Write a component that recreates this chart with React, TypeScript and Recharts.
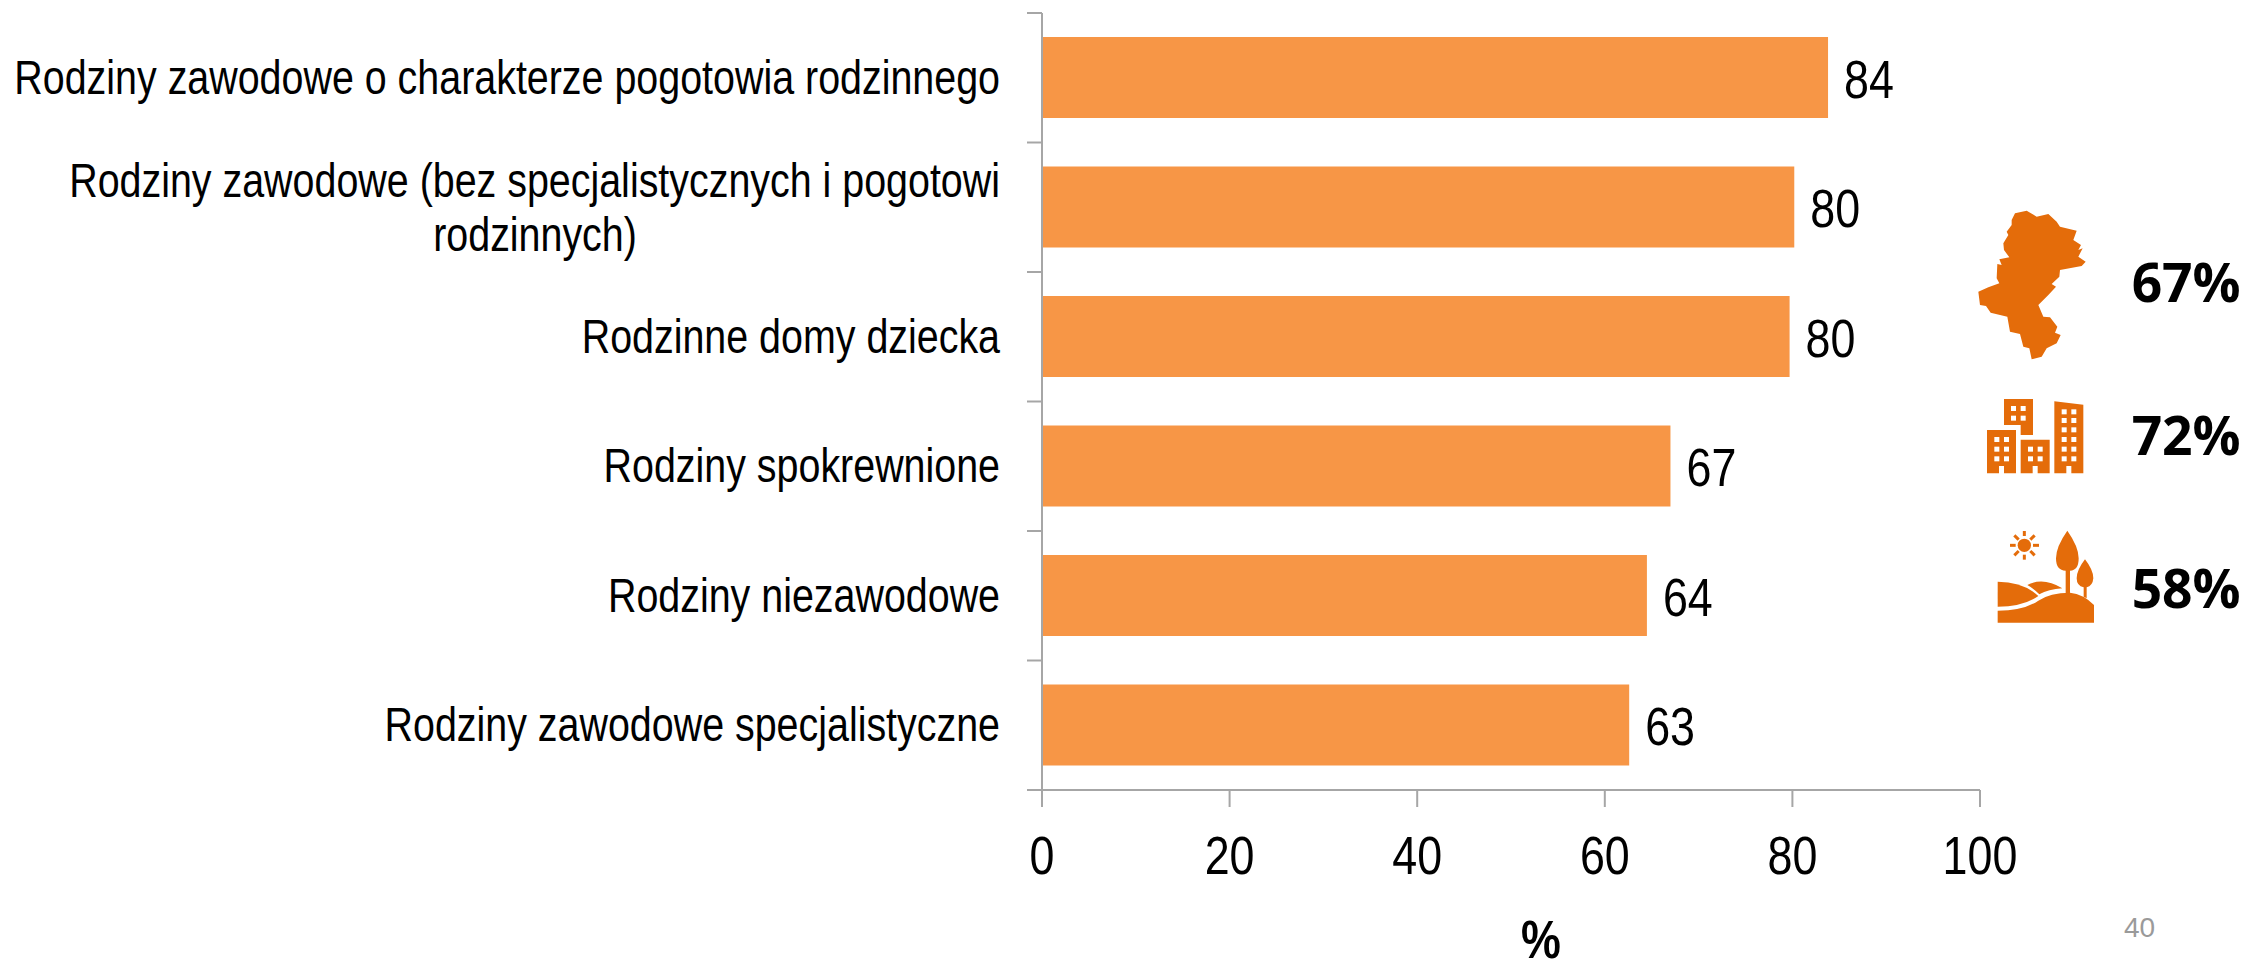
import { BarChart, Bar, XAxis, YAxis, LabelList, Label } from 'recharts';

const categories = [
    'Rodziny zawodowe o charakterze pogotowia rodzinnego',
    'Rodziny zawodowe (bez specjalistycznych i pogotowi\nrodzinnych)',
    'Rodzinne domy dziecka',
    'Rodziny spokrewnione',
    'Rodziny niezawodowe',
    'Rodziny zawodowe specjalistyczne',
];
const values = [83.8, 80.2, 79.7, 67, 64.49, 62.6];
const xTicks = [0, 20, 40, 60, 80, 100];
const stats = ['67%', '72%', '58%'];

const data = categories.map((name, i) => ({ name, value: values[i] }));

const FONT = '"Liberation Sans", Arial, sans-serif';
const SQUEEZE = 0.83;
const LABEL_SIZE = 47.5;
const NUMBER_SIZE = 54;
const AXIS_COLOR = '#A6A6A6';
const ICON_COLOR = '#E46C0A';
const BAND = 777 / categories.length;

function CategoryTick({ y, payload, index }: any) {
    const lines = String(payload.value).split('\n');
    return (
        <g>
            <line x1={1027} x2={1042} y1={y - BAND / 2} y2={y - BAND / 2} stroke={AXIS_COLOR} strokeWidth={2} />
            {index === categories.length - 1 && (
                <line x1={1027} x2={1042} y1={y + BAND / 2} y2={y + BAND / 2} stroke={AXIS_COLOR} strokeWidth={2} />
            )}
            <g transform={`translate(${1000} ${y}) scale(${SQUEEZE} 1)`} fontFamily={FONT} fontSize={LABEL_SIZE} fill="#000">
                {lines.length === 1 ? (
                    <text textAnchor="end" y={16}>{lines[0]}</text>
                ) : (
                    <>
                        <text textAnchor="end" y={-10}>{lines[0]}</text>
                        <text textAnchor="middle" x={-465 / SQUEEZE} y={44}>{lines[1]}</text>
                    </>
                )}
            </g>
        </g>
    );
}

function ValueTick({ x, y, payload }: any) {
    return (
        <text
            transform={`translate(${x} ${y + 65}) scale(${SQUEEZE} 1)`}
            textAnchor="middle"
            fontFamily={FONT}
            fontSize={NUMBER_SIZE}
            fill="#000"
        >
            {payload.value}
        </text>
    );
}

function ValueLabel({ x, y, width, height, value }: any) {
    return (
        <text
            transform={`translate(${x + width + 16} ${y + height / 2 + 20}) scale(${SQUEEZE} 1)`}
            fontFamily={FONT}
            fontSize={NUMBER_SIZE}
            fill="#000"
        >
            {Math.round(value)}
        </text>
    );
}

function AxisTitle({ viewBox }: any) {
    return (
        <text
            transform={`translate(${viewBox.x + viewBox.width * 0.532} 958) scale(${SQUEEZE} 1)`}
            textAnchor="middle"
            fontFamily={FONT}
            fontWeight={700}
            fontSize={NUMBER_SIZE}
            fill="#000"
        >
            %
        </text>
    );
}

function Windows({ xs, ys }: { xs: number[]; ys: number[] }) {
    return (
        <>
            {xs.map((wx) => ys.map((wy) => <rect key={`${wx}-${wy}`} x={wx} y={wy} width={15} height={15} fill="#fff" />))}
        </>
    );
}

// in 3x zoom units
function Icons() {
    return (
        <svg width={347} height={460} viewBox="0 0 1041 1380" style={{ position: 'absolute', left: 1900, top: 180 }}>
            <path
                fill={ICON_COLOR}
                d="M345 100 L380 92 L410 110 L445 102 L470 125 L480 140 L530 152 L520 180 L543 195 L535 210 L548 205 L535 230 L557 245 L545 258 L480 270 L478 290 L455 312 L468 320 L445 345 L415 375 L430 410 L450 412 L472 440 L465 458 L482 465 L470 490 L440 505 L425 530 L395 538 L388 505 L370 500 L360 462 L330 455 L322 410 L272 398 L258 378 L240 375 L235 335 L265 322 L298 310 L290 295 L292 252 L305 255 L298 238 L328 232 L312 210 L310 190 L325 165 L320 155 L335 135 L335 120 Z"
            />
            <g fill={ICON_COLOR}>
                <path d="M312 657 H399 V765 H362 V735 H312 Z" />
                <path d="M261 750 H348 V880 H312 V858 H297 V880 H261 Z" />
                <path d="M362 779 H449 V880 H413 V858 H398 V880 H362 Z" />
                <path d="M463 664 L550 674 V880 H514 V858 H499 V880 H463 Z" />
            </g>
            <Windows xs={[333, 362]} ys={[678, 707]} />
            <Windows xs={[283, 312]} ys={[771, 800, 829]} />
            <Windows xs={[384, 413]} ys={[800, 829]} />
            <Windows xs={[485, 514]} ys={[688, 714, 742, 771, 800, 829]} />
            <g fill={ICON_COLOR}>
                <path d="M293 1205 Q370 1205 415 1248 Q370 1280 293 1280 Z" />
                <path d="M382 1215 Q430 1190 487 1225 Q445 1228 418 1243 Q400 1225 382 1215 Z" />
                <path d="M293 1292 Q370 1292 415 1262 Q450 1238 510 1238 Q550 1242 582 1275 V1328 H293 Z" />
                <path d="M502 1052 Q536 1100 536 1135 Q536 1172 510 1172 V1240 H497 V1172 Q468 1172 468 1135 Q468 1100 502 1052 Z" />
                <path d="M555 1138 Q580 1170 580 1195 Q578 1218 560 1222 V1255 L551 1250 V1222 Q530 1218 530 1195 Q530 1170 555 1138 Z" />
                <circle cx={373} cy={1096} r={20} />
            </g>
            <g stroke={ICON_COLOR} strokeWidth={9}>
                <line x1={373} y1={1053} x2={373} y2={1068} />
                <line x1={373} y1={1124} x2={373} y2={1139} />
                <line x1={330} y1={1096} x2={347} y2={1096} />
                <line x1={399} y1={1096} x2={417} y2={1096} />
                <line x1={343} y1={1066} x2={356} y2={1079} />
                <line x1={391} y1={1113} x2={404} y2={1126} />
                <line x1={404} y1={1066} x2={391} y2={1079} />
                <line x1={356} y1={1113} x2={343} y2={1126} />
            </g>
            {stats.map((s, i) => (
                <text
                    key={s}
                    x={1022}
                    y={365 + i * 460}
                    textAnchor="end"
                    fontFamily='"Open Sans", sans-serif'
                    fontWeight={700}
                    fontSize={160}
                    fill="#000"
                >
                    {s}
                </text>
            ))}
        </svg>
    );
}

export default function App() {
    return (
        <div style={{ position: 'absolute', left: 0, top: 0, width: 2247, height: 961, overflow: 'hidden', background: '#fff' }}>
            <BarChart
                width={2247}
                height={961}
                data={data}
                layout="vertical"
                barSize={81}
                margin={{ top: 13, right: 267, bottom: 0, left: 0 }}
            >
                <XAxis
                    type="number"
                    domain={[0, 100]}
                    ticks={xTicks}
                    interval={0}
                    height={171}
                    tickSize={17}
                    stroke={AXIS_COLOR}
                    strokeWidth={2}
                    tick={<ValueTick />}
                >
                    <Label content={<AxisTitle />} />
                </XAxis>
                <YAxis
                    type="category"
                    dataKey="name"
                    width={1042}
                    interval={0}
                    tickLine={false}
                    stroke={AXIS_COLOR}
                    strokeWidth={2}
                    tick={<CategoryTick />}
                />
                <Bar dataKey="value" fill="#F79646" isAnimationActive={false}>
                    <LabelList dataKey="value" content={<ValueLabel />} />
                </Bar>
            </BarChart>
            <Icons />
            <div
                style={{
                    position: 'absolute',
                    left: 2124,
                    top: 912,
                    fontFamily: FONT,
                    fontSize: 28,
                    color: '#9A9A9A',
                }}
            >
                40
            </div>
        </div>
    );
}
